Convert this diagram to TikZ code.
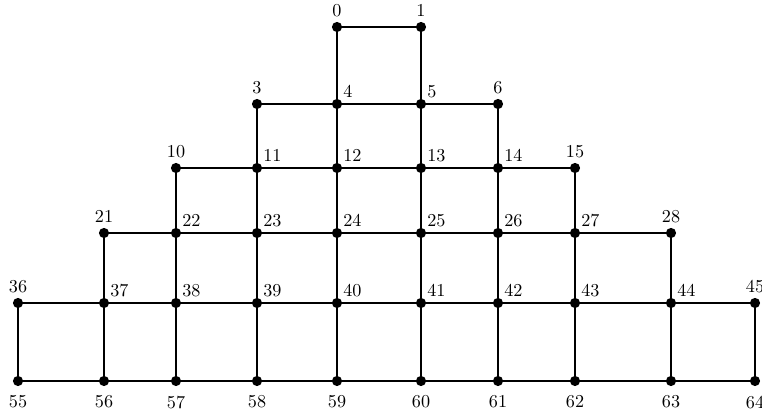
\documentclass[tikz,border=0pt]{standalone}
\usepackage{tikz}
\usetikzlibrary{positioning}

\tikzset{
  dot/.style={circle, fill=black, inner sep=0pt, minimum size=5.6pt},
  lbl/.style={inner sep=1.5pt, font=\normalsize},
  top/.style={lbl, label distance=0.8pt},
  side/.style={lbl, label distance=-0.5pt},
  bot/.style={lbl, label distance=3.4pt},
  edge/.style={line width=1.35pt}
}

\begin{document}
\begin{tikzpicture}[x=0.55pt, y=-0.55pt]
    \useasboundingbox (0,0) rectangle (762,412);
    % nodes with labels above
    \foreach \n/\x/\y in {0/337/27, 1/421/27, 3/257/104, 6/498/104, 10/176/168,
        15/575/168, 21/104/233, 28/671/233, 36/18/303, 45/755/303}
        \node[dot, label={[top]above:\n}] (n\n) at (\x,\y) {};
    % inner nodes
    \foreach \n/\x/\y in {4/337/104, 5/421/104, 11/257/168, 12/337/168, 13/421/168,
        14/498/168, 22/176/233, 23/257/233, 24/337/233, 25/421/233, 26/498/233,
        27/575/233, 37/104/303, 38/176/303, 39/257/303, 40/337/303, 41/421/303,
        42/498/303, 43/575/303, 44/671/303}
        \node[dot, label={[side]above right:\n}] (n\n) at (\x,\y) {};
    % bottom row
    \foreach \n/\x/\y in {55/18/381, 56/104/381, 57/176/381, 58/257/381, 59/337/381,
        60/421/381, 61/498/381, 62/575/381, 63/671/381, 64/755/381}
        \node[dot, label={[bot]below:\n}] (n\n) at (\x,\y) {};

    % horizontal lines
    \draw[edge] (n0) -- (n1);
    \draw[edge] (n3) -- (n4) -- (n5) -- (n6);
    \draw[edge] (n10) -- (n11) -- (n12) -- (n13) -- (n14) -- (n15);
    \draw[edge] (n21) -- (n22) -- (n23) -- (n24) -- (n25) -- (n26) -- (n27) -- (n28);
    \draw[edge] (n36) -- (n37) -- (n38) -- (n39) -- (n40) -- (n41) -- (n42) -- (n43) -- (n44) -- (n45);
    \draw[edge] (n55) -- (n56) -- (n57) -- (n58) -- (n59) -- (n60) -- (n61) -- (n62) -- (n63) -- (n64);
    % vertical lines
    \draw[edge] (n0) -- (n4) -- (n12) -- (n24) -- (n40) -- (n59);
    \draw[edge] (n1) -- (n5) -- (n13) -- (n25) -- (n41) -- (n60);
    \draw[edge] (n3) -- (n11) -- (n23) -- (n39) -- (n58);
    \draw[edge] (n6) -- (n14) -- (n26) -- (n42) -- (n61);
    \draw[edge] (n10) -- (n22) -- (n38) -- (n57);
    \draw[edge] (n15) -- (n27) -- (n43) -- (n62);
    \draw[edge] (n21) -- (n37) -- (n56);
    \draw[edge] (n28) -- (n44) -- (n63);
    \draw[edge] (n36) -- (n55);
    \draw[edge] (n45) -- (n64);
\end{tikzpicture}
\end{document}
